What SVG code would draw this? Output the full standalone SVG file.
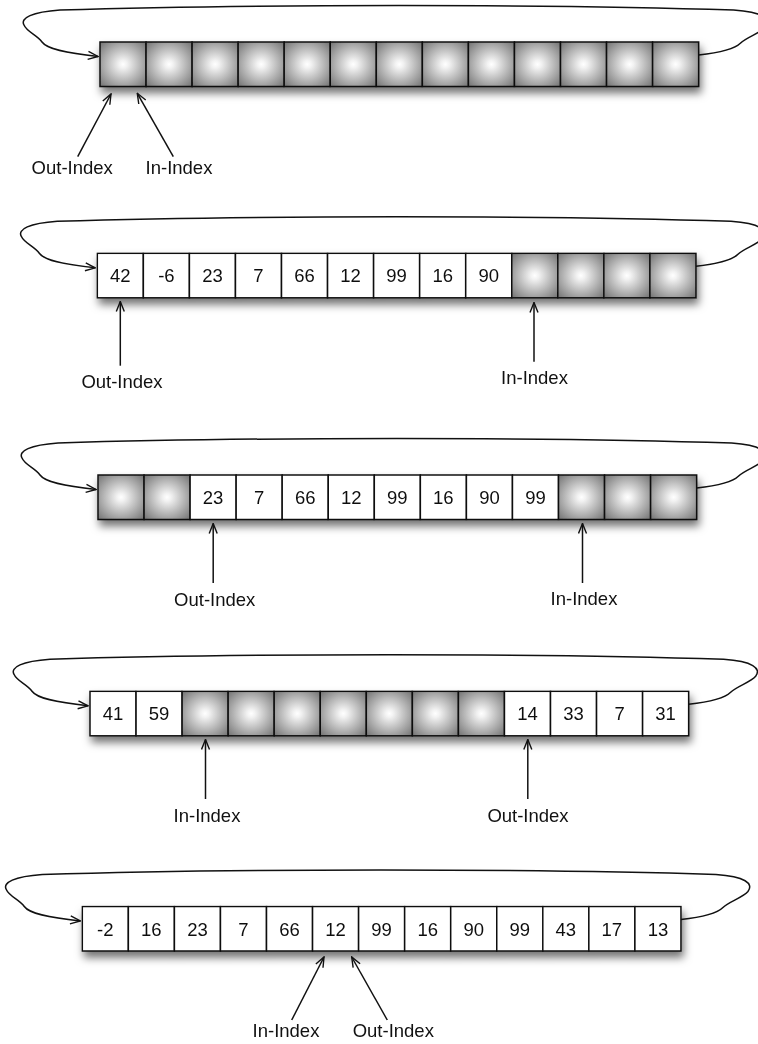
<svg xmlns="http://www.w3.org/2000/svg" width="758" height="1044" viewBox="0 0 758 1044">
<style>
.cell{stroke:#111;stroke-width:1.5}
.e{fill:url(#g)}
.f{fill:#fff}
.t{font-family:"Liberation Sans",Arial,sans-serif;font-size:18.5px;fill:#111;text-anchor:middle}
.loop{fill:none;stroke:#111;stroke-width:1.5;marker-end:url(#ah)}
.ptr{fill:none;stroke:#111;stroke-width:1.5;marker-end:url(#ah)}
</style>
<defs>
<radialGradient id="g" cx="0.5" cy="0.5" r="0.72">
<stop offset="0" stop-color="#ffffff"/>
<stop offset="0.12" stop-color="#f2f2f2"/>
<stop offset="1" stop-color="#6e6e6e"/>
</radialGradient>
<filter id="sh" x="-5%" y="-30%" width="110%" height="170%">
<feDropShadow dx="2" dy="6" stdDeviation="4" flood-color="#000" flood-opacity="0.55"/>
</filter>
<marker id="ah" viewBox="0 0 12 10" refX="11" refY="5" markerWidth="12" markerHeight="10" markerUnits="userSpaceOnUse" orient="auto">
<path d="M1,1 L11,5 L1,9" fill="none" stroke="#111" stroke-width="1.4"/>
</marker>
<rect id="c" class="cell" width="46.05" height="44.5"/>
</defs>

<g id="row1" transform="translate(100,42)" filter="url(#sh)">
<g id="r1c1"><use href="#c" x="0" class="e"/></g>
<g id="r1c2"><use href="#c" x="46.05" class="e"/></g>
<g id="r1c3"><use href="#c" x="92.1" class="e"/></g>
<g id="r1c4"><use href="#c" x="138.15" class="e"/></g>
<g id="r1c5"><use href="#c" x="184.2" class="e"/></g>
<g id="r1c6"><use href="#c" x="230.25" class="e"/></g>
<g id="r1c7"><use href="#c" x="276.3" class="e"/></g>
<g id="r1c8"><use href="#c" x="322.35" class="e"/></g>
<g id="r1c9"><use href="#c" x="368.4" class="e"/></g>
<g id="r1c10"><use href="#c" x="414.45" class="e"/></g>
<g id="r1c11"><use href="#c" x="460.5" class="e"/></g>
<g id="r1c12"><use href="#c" x="506.55" class="e"/></g>
<g id="r1c13"><use href="#c" x="552.6" class="e"/></g>
</g>

<g id="row2" transform="translate(97.3,253.3)" filter="url(#sh)">
<g id="r2c1"><use href="#c" x="0" class="f"/><text class="t" x="23.03" y="29">42</text></g>
<g id="r2c2"><use href="#c" x="46.05" class="f"/><text class="t" x="69.08" y="29">-6</text></g>
<g id="r2c3"><use href="#c" x="92.1" class="f"/><text class="t" x="115.13" y="29">23</text></g>
<g id="r2c4"><use href="#c" x="138.15" class="f"/><text class="t" x="161.18" y="29">7</text></g>
<g id="r2c5"><use href="#c" x="184.2" class="f"/><text class="t" x="207.23" y="29">66</text></g>
<g id="r2c6"><use href="#c" x="230.25" class="f"/><text class="t" x="253.28" y="29">12</text></g>
<g id="r2c7"><use href="#c" x="276.3" class="f"/><text class="t" x="299.33" y="29">99</text></g>
<g id="r2c8"><use href="#c" x="322.35" class="f"/><text class="t" x="345.38" y="29">16</text></g>
<g id="r2c9"><use href="#c" x="368.4" class="f"/><text class="t" x="391.43" y="29">90</text></g>
<g id="r2c10"><use href="#c" x="414.45" class="e"/></g>
<g id="r2c11"><use href="#c" x="460.5" class="e"/></g>
<g id="r2c12"><use href="#c" x="506.55" class="e"/></g>
<g id="r2c13"><use href="#c" x="552.6" class="e"/></g>
</g>

<g id="row3" transform="translate(98,475)" filter="url(#sh)">
<g id="r3c1"><use href="#c" x="0" class="e"/></g>
<g id="r3c2"><use href="#c" x="46.05" class="e"/></g>
<g id="r3c3"><use href="#c" x="92.1" class="f"/><text class="t" x="115.13" y="29">23</text></g>
<g id="r3c4"><use href="#c" x="138.15" class="f"/><text class="t" x="161.18" y="29">7</text></g>
<g id="r3c5"><use href="#c" x="184.2" class="f"/><text class="t" x="207.23" y="29">66</text></g>
<g id="r3c6"><use href="#c" x="230.25" class="f"/><text class="t" x="253.28" y="29">12</text></g>
<g id="r3c7"><use href="#c" x="276.3" class="f"/><text class="t" x="299.33" y="29">99</text></g>
<g id="r3c8"><use href="#c" x="322.35" class="f"/><text class="t" x="345.38" y="29">16</text></g>
<g id="r3c9"><use href="#c" x="368.4" class="f"/><text class="t" x="391.43" y="29">90</text></g>
<g id="r3c10"><use href="#c" x="414.45" class="f"/><text class="t" x="437.48" y="29">99</text></g>
<g id="r3c11"><use href="#c" x="460.5" class="e"/></g>
<g id="r3c12"><use href="#c" x="506.55" class="e"/></g>
<g id="r3c13"><use href="#c" x="552.6" class="e"/></g>
</g>

<g id="row4" transform="translate(90,691.3)" filter="url(#sh)">
<g id="r4c1"><use href="#c" x="0" class="f"/><text class="t" x="23.03" y="29">41</text></g>
<g id="r4c2"><use href="#c" x="46.05" class="f"/><text class="t" x="69.08" y="29">59</text></g>
<g id="r4c3"><use href="#c" x="92.1" class="e"/></g>
<g id="r4c4"><use href="#c" x="138.15" class="e"/></g>
<g id="r4c5"><use href="#c" x="184.2" class="e"/></g>
<g id="r4c6"><use href="#c" x="230.25" class="e"/></g>
<g id="r4c7"><use href="#c" x="276.3" class="e"/></g>
<g id="r4c8"><use href="#c" x="322.35" class="e"/></g>
<g id="r4c9"><use href="#c" x="368.4" class="e"/></g>
<g id="r4c10"><use href="#c" x="414.45" class="f"/><text class="t" x="437.48" y="29">14</text></g>
<g id="r4c11"><use href="#c" x="460.5" class="f"/><text class="t" x="483.53" y="29">33</text></g>
<g id="r4c12"><use href="#c" x="506.55" class="f"/><text class="t" x="529.58" y="29">7</text></g>
<g id="r4c13"><use href="#c" x="552.6" class="f"/><text class="t" x="575.63" y="29">31</text></g>
</g>

<g id="row5" transform="translate(82.3,906.5)" filter="url(#sh)">
<g id="r5c1"><use href="#c" x="0" class="f"/><text class="t" x="23.03" y="29">-2</text></g>
<g id="r5c2"><use href="#c" x="46.05" class="f"/><text class="t" x="69.08" y="29">16</text></g>
<g id="r5c3"><use href="#c" x="92.1" class="f"/><text class="t" x="115.13" y="29">23</text></g>
<g id="r5c4"><use href="#c" x="138.15" class="f"/><text class="t" x="161.18" y="29">7</text></g>
<g id="r5c5"><use href="#c" x="184.2" class="f"/><text class="t" x="207.23" y="29">66</text></g>
<g id="r5c6"><use href="#c" x="230.25" class="f"/><text class="t" x="253.28" y="29">12</text></g>
<g id="r5c7"><use href="#c" x="276.3" class="f"/><text class="t" x="299.33" y="29">99</text></g>
<g id="r5c8"><use href="#c" x="322.35" class="f"/><text class="t" x="345.38" y="29">16</text></g>
<g id="r5c9"><use href="#c" x="368.4" class="f"/><text class="t" x="391.43" y="29">90</text></g>
<g id="r5c10"><use href="#c" x="414.45" class="f"/><text class="t" x="437.48" y="29">99</text></g>
<g id="r5c11"><use href="#c" x="460.5" class="f"/><text class="t" x="483.53" y="29">43</text></g>
<g id="r5c12"><use href="#c" x="506.55" class="f"/><text class="t" x="529.58" y="29">17</text></g>
<g id="r5c13"><use href="#c" x="552.6" class="f"/><text class="t" x="575.63" y="29">13</text></g>
</g>

<g id="labels">
<text class="t" x="72.2" y="174">Out-Index</text>
<text class="t" x="179" y="174">In-Index</text>
<text class="t" x="122" y="388">Out-Index</text>
<text class="t" x="534.5" y="384">In-Index</text>
<text class="t" x="214.7" y="605.5">Out-Index</text>
<text class="t" x="584" y="605">In-Index</text>
<text class="t" x="207" y="821.7">In-Index</text>
<text class="t" x="528" y="821.7">Out-Index</text>
<text class="t" x="286" y="1037">In-Index</text>
<text class="t" x="393.3" y="1037">Out-Index</text>
</g>

<g id="connectors">
<path class="loop" d="M698.65,55 C716.65,53 734.65,49 740.65,43 C746.65,37 760.65,33 765.65,27 C771.65,19 762.65,12 733.65,10 C548.65,4 250,4 60,10 C32,12 20,18 24,25 C27,32 37,35 42,42 C47,49 65,53 98,56.5"/>
<path class="loop" d="M695.95,266.3 C713.95,264.3 731.95,260.3 737.95,254.3 C743.95,248.3 757.95,244.3 762.95,238.3 C768.95,230.3 759.95,223.3 730.95,221.3 C545.95,215.3 247.3,215.3 57.3,221.3 C29.3,223.3 17.3,229.3 21.3,236.3 C24.3,243.3 34.3,246.3 39.3,253.3 C44.3,260.3 62.3,264.3 95.3,267.8"/>
<path class="loop" d="M696.65,488 C714.65,486 732.65,482 738.65,476 C744.65,470 758.65,466 763.65,460 C769.65,452 760.65,445 731.65,443 C546.65,437 248,437 58,443 C30,445 18,451 22,458 C25,465 35,468 40,475 C45,482 63,486 96,489.5"/>
<path class="loop" d="M688.65,704.3 C706.65,702.3 724.65,698.3 730.65,692.3 C736.65,686.3 750.65,682.3 755.65,676.3 C761.65,668.3 752.65,661.3 723.65,659.3 C538.65,653.3 240,653.3 50,659.3 C22,661.3 10,667.3 14,674.3 C17,681.3 27,684.3 32,691.3 C37,698.3 55,702.3 88,705.8"/>
<path class="loop" d="M680.95,919.5 C698.95,917.5 716.95,913.5 722.95,907.5 C728.95,901.5 742.95,897.5 747.95,891.5 C753.95,883.5 744.95,876.5 715.95,874.5 C530.95,868.5 232.3,868.5 42.3,874.5 C14.3,876.5 2.3,882.5 6.3,889.5 C9.3,896.5 19.3,899.5 24.3,906.5 C29.3,913.5 47.3,917.5 80.3,921"/>
<path class="ptr" d="M77.7,156.7 L111,94"/>
<path class="ptr" d="M173.3,156.7 L137.3,93.3"/>
<path class="ptr" d="M120.3,365.7 L120.3,301.5"/>
<path class="ptr" d="M534,361.7 L534,302.5"/>
<path class="ptr" d="M213.2,583 L213.2,523.5"/>
<path class="ptr" d="M582.5,583 L582.5,523.5"/>
<path class="ptr" d="M205.5,799 L205.5,739.5"/>
<path class="ptr" d="M527.8,799 L527.8,739.5"/>
<path class="ptr" d="M291.7,1020 L324,957"/>
<path class="ptr" d="M387.3,1020 L351.7,957"/>
</g>
</svg>
